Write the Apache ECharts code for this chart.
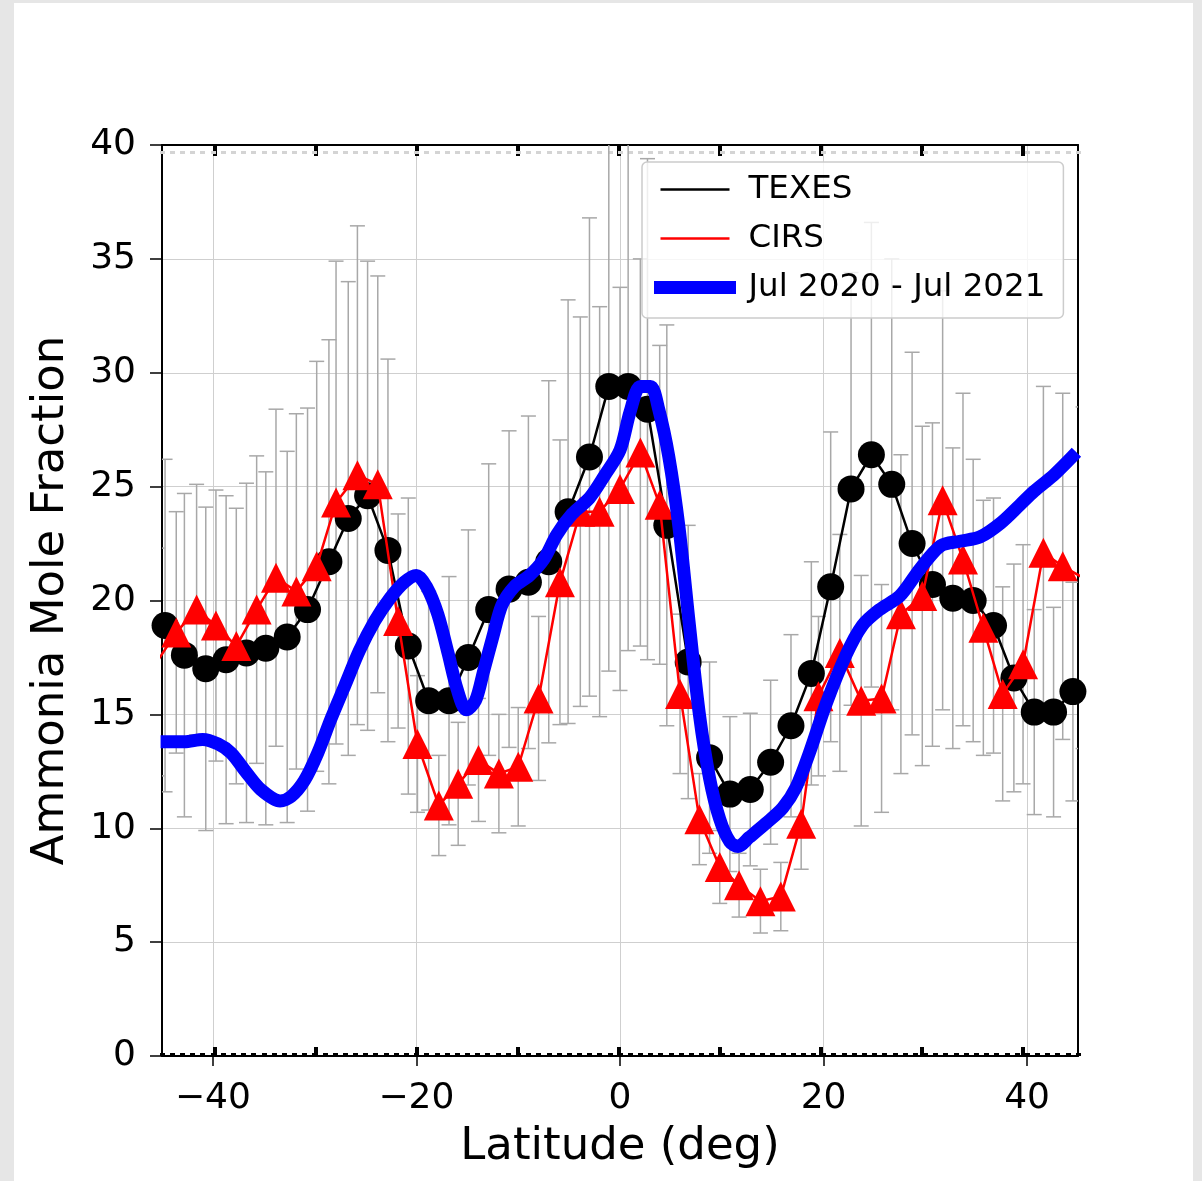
<!DOCTYPE html>
<html>
<head>
<meta charset="utf-8">
<script src="https://cdn.jsdelivr.net/npm/echarts@6/dist/echarts.min.js"></script>
<style>
  html, body { margin: 0; padding: 0; background: #e6e6e6; width: 1202px; height: 1181px; overflow: hidden; }
  #chart { position: absolute; left: 14px; top: 3px; width: 1179px; height: 1178px; background: #ffffff; }
</style>
</head>
<body>
<div id="chart"></div>
<script>
// ---------------- data ----------------
const texesLat = [-44.7,-42.8,-40.7,-38.7,-36.7,-34.8,-32.7,-30.7,-28.6,-26.7,-24.8,-22.8,-20.8,-18.8,-16.8,-14.9,-12.9,-10.9,-9.0,-7.0,-5.1,-3.0,-1.1,0.8,2.7,4.6,6.7,8.8,10.8,12.8,14.8,16.8,18.8,20.7,22.7,24.7,26.7,28.7,30.7,32.7,34.7,36.7,38.7,40.7,42.6,44.5];
const texesVal = [18.9,17.6,17.0,17.4,17.7,17.9,18.4,19.6,21.7,23.6,24.6,22.2,18.0,15.6,15.6,17.5,19.6,20.5,20.8,21.7,23.9,26.3,29.4,29.4,28.4,23.3,17.3,13.1,11.5,11.7,12.9,14.5,16.8,20.6,24.9,26.4,25.1,22.5,20.7,20.1,20.0,18.9,16.6,15.1,15.1,16.0];
const texesErr = [7.3,7.1,7.1,7.2,7.45,7.75,8.15,8.85,9.75,10.4,10.3,8.4,6.5,4.8,5.45,5.6,6.4,6.95,7.3,7.95,9.3,10.5,12.5,11.6,11.0,8.8,6.0,4.2,3.4,3.35,3.6,4.0,4.9,6.8,9.5,10.2,9.9,8.4,7.1,6.6,6.2,5.6,5.0,4.5,4.6,4.8];

const cirsLat = [-45.5,-43.6,-41.6,-39.7,-37.7,-35.7,-33.8,-31.8,-29.8,-27.9,-25.8,-23.8,-21.8,-19.9,-17.8,-15.9,-13.9,-11.9,-10.0,-8.0,-5.9,-3.9,-2.0,0.0,2.0,3.9,5.9,7.8,9.8,11.7,13.8,15.8,17.8,19.5,21.6,23.7,25.7,27.6,29.7,31.7,33.7,35.7,37.6,39.6,41.6,43.5,45.5];
const cirsVal = [17.3,18.6,19.6,18.9,18.0,19.6,21.0,20.4,21.5,24.3,25.5,25.1,19.1,13.7,11.0,11.95,13.0,12.4,12.7,15.7,20.8,23.9,23.9,24.9,26.5,24.2,15.9,10.4,8.3,7.5,6.8,7.0,10.2,15.8,17.7,15.6,15.7,19.4,20.2,24.4,21.8,18.8,15.9,17.2,22.1,21.5,21.0];
const cirsErr = [5.0,5.3,5.5,5.95,6.05,6.75,7.4,7.8,9.0,10.6,10.95,9.15,4.7,3.0,2.2,2.7,2.7,2.6,2.6,3.6,6.25,8.55,9.0,8.85,8.5,7.0,3.5,2.0,1.6,1.4,1.4,1.5,2.0,3.5,5.2,5.5,5.0,7.0,7.45,9.2,7.3,5.6,4.7,5.25,7.3,7.6,7.5];

const blueLat = [-44.5,-42.8,-41.0,-39.5,-38.2,-36.8,-35.3,-33.4,-32.3,-31.0,-29.7,-28.4,-27.0,-25.6,-24.1,-22.6,-21.2,-20.0,-19.0,-17.9,-16.9,-16.0,-15.1,-14.2,-13.4,-12.5,-11.6,-10.4,-8.9,-7.5,-6.2,-4.7,-3.0,-1.5,0.0,1.0,2.0,3.0,3.8,4.8,5.8,6.8,7.8,8.8,9.8,10.8,11.6,12.7,14.3,16.0,17.3,18.6,20.2,22.2,23.8,25.5,27.5,29.5,31.5,33.4,35.4,37.4,39.3,40.7,42.6,44.4];
const blueVal = [13.8,13.8,13.9,13.7,13.3,12.5,11.7,11.2,11.4,12.1,13.3,14.8,16.3,17.8,19.1,20.1,20.8,21.1,20.6,19.4,17.7,16.1,15.2,15.6,16.9,18.4,19.8,20.6,21.1,21.8,22.9,23.8,24.5,25.5,26.6,28.3,29.4,29.4,28.4,26.3,23.2,19.0,15.0,12.2,10.4,9.4,9.2,9.6,10.2,10.9,11.8,13.3,15.4,17.6,18.9,19.6,20.2,21.4,22.4,22.6,22.8,23.4,24.2,24.8,25.5,26.3];

const seriesNames = ['TEXES', 'CIRS', 'Jul 2020 - Jul 2021'];
const xTickValues = [-40, -20, 0, 20, 40];
const xInnerTicks = [-40, -30, -20, -10, 0, 10, 20, 30, 40];
const yMin = 0, yMax = 40, yStep = 5;

// -------------- build --------------
const FONT = 'DejaVu Sans';
const zip = (a, b) => a.map((v, i) => [v, b[i]]);
const errRows = (lat, val, err) => lat.map((x, i) => [x, val[i] - err[i], val[i] + err[i]]);
const minorTicks = [];
for (let v = -45; v <= 45; v += 1) minorTicks.push(v);

function errorBarRenderer(params, api) {
  const x = api.value(0);
  const lo = api.coord([x, api.value(1)]);
  const hi = api.coord([x, api.value(2)]);
  const hw = 7.5;
  const style = { stroke: '#a8a8a8', lineWidth: 1.5 };
  return {
    type: 'group',
    children: [
      { type: 'line', shape: { x1: lo[0], y1: lo[1], x2: hi[0], y2: hi[1] }, style },
      { type: 'line', shape: { x1: hi[0] - hw, y1: hi[1], x2: hi[0] + hw, y2: hi[1] }, style },
      { type: 'line', shape: { x1: lo[0] - hw, y1: lo[1], x2: lo[0] + hw, y2: lo[1] }, style }
    ]
  };
}

const fmtX = v => (v < 0 ? '\u2212' + (-v) : String(v));

const chart = echarts.init(document.getElementById('chart'), null, { renderer: 'canvas' });
chart.setOption({
  animation: false,
  backgroundColor: '#ffffff',
  grid: { left: 148, top: 142, width: 916, height: 911, show: false },
  legend: {
    data: seriesNames,
    orient: 'vertical',
    left: 628,
    top: 159,
    padding: [11, 18, 14, 12],
    itemGap: 16,
    itemWidth: 69,
    itemHeight: 14,
    backgroundColor: 'rgba(255,255,255,0.8)',
    borderColor: '#cccccc',
    borderWidth: 1.5,
    borderRadius: 5,
    selectedMode: false,
    itemStyle: { opacity: 0 },
    lineStyle: { width: 'inherit' },
    textStyle: { fontFamily: FONT, fontSize: 32.5, color: '#000', padding: [0, 0, 0, 14] }
  },
  xAxis: [
    {
      type: 'value', position: 'bottom', min: -45, max: 45,
      axisLine: { show: true, onZero: false, lineStyle: { color: '#000', width: 2 } },
      axisTick: { show: true, customValues: xTickValues, length: 10, lineStyle: { color: '#000', width: 1.5 } },
      axisLabel: { customValues: xTickValues, formatter: fmtX, fontFamily: FONT, fontSize: 36, color: '#000', margin: 25 },
      splitLine: { show: true, lineStyle: { color: '#cfcfcf', width: 1 } },
      name: 'Latitude (deg)', nameLocation: 'middle', nameGap: 69,
      nameTextStyle: { fontFamily: FONT, fontSize: 45, color: '#000', verticalAlign: 'top' }
    },
    {
      type: 'value', position: 'bottom', min: -45.27, max: 45.45,
      axisLine: { show: false },
      axisTick: { show: true, inside: true, customValues: xInnerTicks, length: 9, lineStyle: { color: '#000', width: 4 } },
      axisLabel: { show: false }, splitLine: { show: false }
    },
    {
      type: 'value', position: 'bottom', min: -45, max: 45,
      axisLine: { show: false },
      axisTick: { show: true, inside: true, customValues: minorTicks, length: 3, lineStyle: { color: '#000', width: 5 } },
      axisLabel: { show: false }, splitLine: { show: false }
    },
    {
      type: 'value', position: 'top', min: -45.27, max: 45.45,
      axisLine: { show: true, onZero: false, lineStyle: { color: '#000', width: 2 } },
      axisTick: { show: true, inside: true, customValues: xInnerTicks, length: 11, lineStyle: { color: '#000', width: 4 } },
      axisLabel: { show: false }, splitLine: { show: false }
    },
    {
      type: 'value', position: 'top', offset: -6, min: -45, max: 45,
      axisLine: { show: false },
      axisTick: { show: true, inside: true, customValues: minorTicks, length: 3, lineStyle: { color: '#d4d4d4', width: 5 } },
      axisLabel: { show: false }, splitLine: { show: false }
    }
  ],
  yAxis: [
    {
      type: 'value', position: 'left', min: yMin, max: yMax, interval: yStep,
      axisLine: { show: true, onZero: false, lineStyle: { color: '#000', width: 2 } },
      axisTick: { show: true, length: 12, lineStyle: { color: '#000', width: 1.5 } },
      axisLabel: { fontFamily: FONT, fontSize: 36, color: '#000', margin: 26, padding: [5, 0, 0, 0] },
      splitLine: { show: true, lineStyle: { color: '#cfcfcf', width: 1 } },
      name: 'Ammonia Mole Fraction', nameLocation: 'middle', nameGap: 88,
      nameTextStyle: { fontFamily: FONT, fontSize: 45, color: '#000' }
    },
    {
      type: 'value', position: 'right', min: yMin, max: yMax, interval: yStep,
      axisLine: { show: true, onZero: false, lineStyle: { color: '#000', width: 2 } },
      axisTick: { show: false }, axisLabel: { show: false }, splitLine: { show: false }
    }
  ],
  series: [
    {
      name: 'TEXES err', type: 'custom', renderItem: errorBarRenderer, clip: true, z: 1,
      data: errRows(texesLat, texesVal, texesErr), silent: true
    },
    {
      name: 'CIRS err', type: 'custom', renderItem: errorBarRenderer, clip: true, z: 1,
      data: errRows(cirsLat, cirsVal, cirsErr), silent: true
    },
    {
      name: seriesNames[0], type: 'line', data: zip(texesLat, texesVal), z: 2,
      symbol: 'circle', symbolSize: 27, showAllSymbol: true,
      itemStyle: { color: '#000' }, lineStyle: { color: '#000', width: 2.5 }
    },
    {
      name: seriesNames[1], type: 'line', data: zip(cirsLat, cirsVal), z: 3,
      symbol: 'triangle', symbolSize: 30, showAllSymbol: true,
      itemStyle: { color: '#ff0000' }, lineStyle: { color: '#ff0000', width: 2.5 }
    },
    {
      name: seriesNames[2], type: 'line', data: zip(blueLat, blueVal), z: 4,
      symbol: 'none', smooth: 0.3,
      itemStyle: { color: '#0000ff' }, lineStyle: { color: '#0000ff', width: 13, cap: 'square', join: 'round' }
    }
  ]
});
</script>
</body>
</html>
